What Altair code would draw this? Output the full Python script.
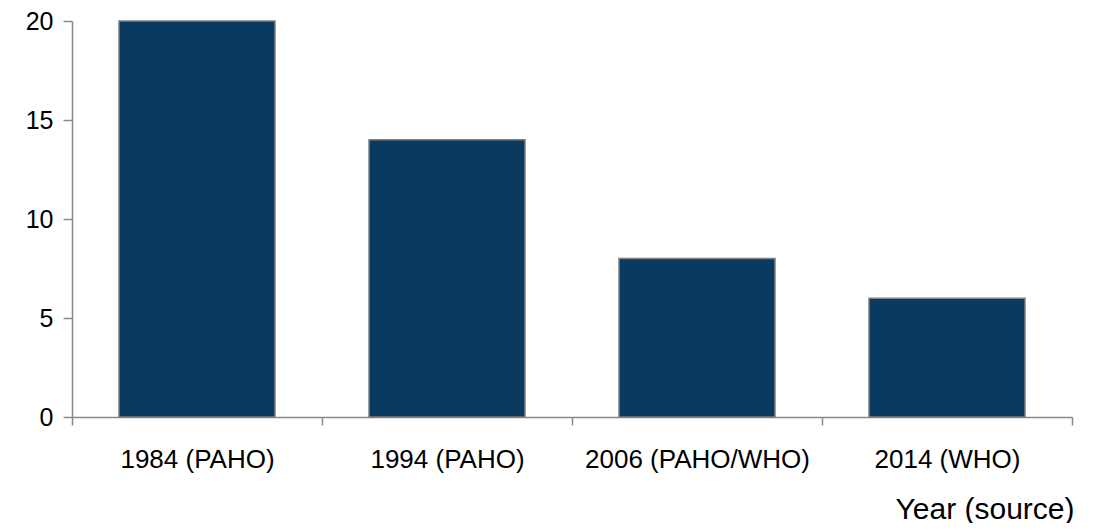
import altair as alt
import pandas as pd

categories = ["1984 (PAHO)", "1994 (PAHO)", "2006 (PAHO/WHO)", "2014 (WHO)"]
values = [20, 14, 8, 6]
y_ticks = [0, 5, 10, 15, 20]

df = pd.DataFrame({"cat": categories, "val": values})

axis_color = "#898989"
font = "Liberation Sans"

chart = alt.Chart(df).mark_bar(
    fill="#0a3a5f", stroke="#7f7f7f", strokeWidth=1.5, width={"band": 0.624}
).encode(
    x=alt.X("cat:N", sort=categories,
            scale=alt.Scale(paddingInner=0, paddingOuter=0),
            axis=alt.Axis(title="Year (source)", labelAngle=0, tickBand="extent",
                          domainColor=axis_color, domainWidth=1.5,
                          tickColor=axis_color, tickWidth=1.5, tickSize=8,
                          labelFont=font, labelFontSize=26, labelColor="#000000",
                          labelBaseline="alphabetic", labelPadding=42, labelLimit=0,
                          titleFont=font, titleFontSize=30, titleFontWeight="normal",
                          titleColor="#000000", titleX=1002, titleY=101,
                          titleAlign="right", titleBaseline="alphabetic")),
    y=alt.Y("val:Q", scale=alt.Scale(domain=[0, 20], nice=False),
            axis=alt.Axis(title=None, values=y_ticks, grid=False,
                          domainColor=axis_color, domainWidth=1.5,
                          tickColor=axis_color, tickWidth=1.5, tickSize=9,
                          labelFont=font, labelFontSize=25, labelColor="#000000",
                          labelPadding=10)),
).properties(
    width=1000, height=396,
    autosize=alt.AutoSizeParams(type="none"),
    padding={"left": 64, "top": 13, "right": 16, "bottom": 106},
).configure_view(stroke=None)

chart.save("out.html", embed_options={"renderer": "svg", "actions": False})
